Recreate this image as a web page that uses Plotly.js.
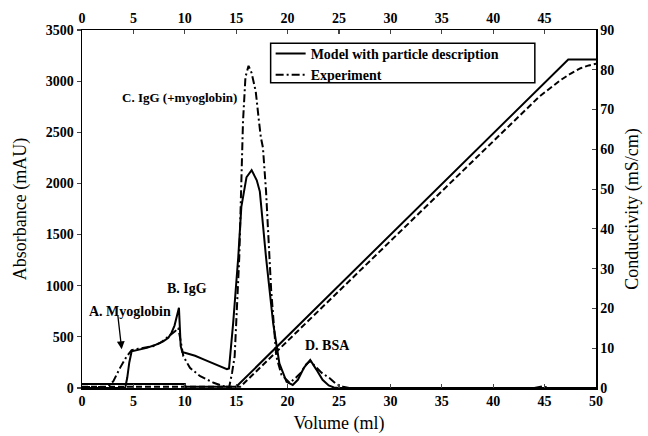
<!DOCTYPE html>
<html>
<head>
<meta charset="utf-8">
<script src="https://cdn.plot.ly/plotly-3.0.1.min.js"></script>
<style>html,body{margin:0;padding:0;background:#fff;}#chart{width:648px;height:436px;}</style>
</head>
<body>
<div id="chart"></div>
<script>
// Absorbance (mAU) – model with particle description
const modelAbsX = [0, 3.9, 4.2, 4.4, 4.6, 4.83, 5.5, 6.3, 7.1, 7.9, 8.4, 8.7, 9.0, 9.2, 9.43, 9.6, 9.76, 10.0, 11.0, 12.0, 13.0, 14.1, 14.3, 14.7, 15.2, 15.5, 16.0, 16.5, 17.0, 17.3, 17.9, 18.6, 19.2, 19.9, 20.5, 21.0, 21.6, 22.2, 22.8, 23.4, 24.0, 24.5, 25.0, 30, 50];
const modelAbsY = [0, 0, 0, 100, 250, 359, 372, 392, 420, 456, 490, 538, 610, 700, 785, 410, 350, 345, 315, 272, 228, 185, 190, 630, 1280, 1770, 2060, 2130, 2030, 1920, 1280, 630, 240, 60, 30, 80, 200, 275, 180, 80, 25, 5, 0, 0, 0];
// Absorbance (mAU) – experiment
const expAbsX = [0, 2.5, 3.05, 3.7, 4.35, 4.83, 5.5, 6.9, 7.6, 8.24, 8.7, 9.05, 9.37, 9.6, 9.86, 10.5, 11.5, 12.8, 13.7, 14.3, 14.6, 14.85, 15.3, 15.5, 15.66, 15.9, 16.2, 16.5, 16.9, 17.2, 17.4, 17.6, 17.9, 18.4, 18.9, 19.4, 20.2, 20.8, 21.3, 21.8, 22.2, 22.6, 23.3, 24.1, 24.7, 25.4, 26.0, 30, 44, 44.8, 45.5, 50];
const expAbsY = [10, 10, 66, 197, 310, 369, 385, 408, 440, 489, 520, 554, 587, 450, 310, 197, 115, 51, 18, 0, 150, 310, 1280, 1960, 2600, 3040, 3150, 3080, 2900, 2620, 2450, 2350, 1930, 960, 310, 130, 50, 100, 150, 230, 265, 220, 150, 95, 40, 12, 0, 0, 0, 15, 0, 0];
// Conductivity (mS/cm)
const modelCondX = [0, 10, 10, 15.0, 47.3, 50];
const modelCondY = [1.0, 1.0, 0.3, 0.3, 82.6, 82.6];
const expCondX = [0, 15.4, 44.5, 45.5, 46.5, 47.5, 48.5, 49.3, 50];
const expCondY = [0.3, 0.3, 73.3, 75.4, 77.3, 79.0, 80.4, 81.1, 81.5];
// Tick values / labels
const xTicks = [0, 5, 10, 15, 20, 25, 30, 35, 40, 45, 50];
const xTopTicks = [0, 5, 10, 15, 20, 25, 30, 35, 40, 45];
const legendNames = ["Model with particle description", "Experiment"];

const serif = "Liberation Serif, Times New Roman, serif";
const tickFont = {family: serif, size: 14, color: "#000", weight: 700};
const titleFont = {family: serif, size: 18, color: "#000"};
const annFont = {family: serif, size: 14, color: "#000", weight: 700};

const traces = [
  {x: modelAbsX, y: modelAbsY, type: "scatter", mode: "lines", name: legendNames[0],
   line: {color: "#000", width: 2}, xaxis: "x", yaxis: "y"},
  {x: expAbsX, y: expAbsY, type: "scatter", mode: "lines", name: legendNames[1],
   line: {color: "#000", width: 2, dash: "8px,3px,2px,3px"}, xaxis: "x", yaxis: "y"},
  {x: modelCondX, y: modelCondY, type: "scatter", mode: "lines", showlegend: false,
   line: {color: "#000", width: 2}, xaxis: "x", yaxis: "y2"},
  {x: expCondX, y: expCondY, type: "scatter", mode: "lines", showlegend: false,
   line: {color: "#000", width: 2, dash: "6px,3px"}, xaxis: "x", yaxis: "y2"},
  {x: [0, 50], y: [0, 0], type: "scatter", mode: "lines", showlegend: false, hoverinfo: "skip",
   line: {color: "rgba(0,0,0,0)", width: 0}, xaxis: "x2", yaxis: "y"}
];

const layout = {
  width: 648, height: 436,
  margin: {l: 82, r: 52, t: 30, b: 48},
  paper_bgcolor: "#fff", plot_bgcolor: "#fff",
  font: {family: serif, color: "#000"},
  showlegend: true,
  legend: {x: 0.367, y: 0.978, xanchor: "left", yanchor: "top", bgcolor: "rgba(0,0,0,0)",
           borderwidth: 0, font: {family: serif, size: 14, color: "#000", weight: 700},
           tracegroupgap: 0},
  xaxis: {range: [0, 50], tickvals: xTicks, ticks: "inside", ticklen: 4, tickwidth: 1.2,
          showline: true, linewidth: 1.5, linecolor: "#000", showgrid: false, zeroline: false,
          tickfont: tickFont, title: {text: "Volume (ml)", font: titleFont, standoff: 8}},
  xaxis2: {range: [0, 50], tickvals: xTopTicks, ticks: "inside", ticklen: 4, tickwidth: 1.2,
           overlaying: "x", side: "top", anchor: "y",
           showline: true, linewidth: 1.5, linecolor: "#000", showgrid: false, zeroline: false,
           tickfont: tickFont},
  yaxis: {range: [0, 3500], dtick: 500, ticks: "outside", ticklen: 4, tickwidth: 1.2,
          showline: true, linewidth: 1.5, linecolor: "#000", showgrid: false, zeroline: false,
          tickfont: tickFont, title: {text: "Absorbance (mAU)", font: titleFont, standoff: 14}},
  yaxis2: {range: [0, 90], dtick: 10, ticks: "inside", ticklen: 4, tickwidth: 1.2,
           overlaying: "y", side: "right", anchor: "x",
           showline: true, linewidth: 1.5, linecolor: "#000", showgrid: false, zeroline: false,
           tickfont: tickFont, title: {text: "Conductivity (mS/cm)", font: titleFont, standoff: 12}},
  shapes: [
    {type: "rect", xref: "paper", yref: "paper", x0: 0.367, x1: 0.881, y0: 0.853, y1: 0.963,
     line: {color: "#000", width: 1.5}, fillcolor: "rgba(0,0,0,0)"}
  ],
  annotations: [
    {x: 9.5, y: 2842, xref: "x", yref: "y", text: "C. IgG (+myoglobin)", showarrow: false,
     xanchor: "center", yanchor: "middle", font: {family: serif, size: 13, color: "#000", weight: 700}},
    {x: 10.21, y: 970, xref: "x", yref: "y", text: "B. IgG", showarrow: false,
     xanchor: "center", yanchor: "middle", font: annFont},
    {x: 0.49, y: 746, xref: "x", yref: "y", text: "A. Myoglobin", showarrow: false,
     xanchor: "left", yanchor: "middle", font: annFont},
    {x: 21.47, y: 414, xref: "x", yref: "y", text: "D. BSA", showarrow: false,
     xanchor: "left", yanchor: "middle", font: annFont},
    {x: 3.86, y: 380, xref: "x", yref: "y", text: "", showarrow: true, ax: -4, ay: -35,
     arrowhead: 2, arrowsize: 1.2, arrowwidth: 1.3, arrowcolor: "#000"}
  ]
};

Plotly.newPlot("chart", traces, layout, {displayModeBar: false, staticPlot: true});
</script>
</body>
</html>
